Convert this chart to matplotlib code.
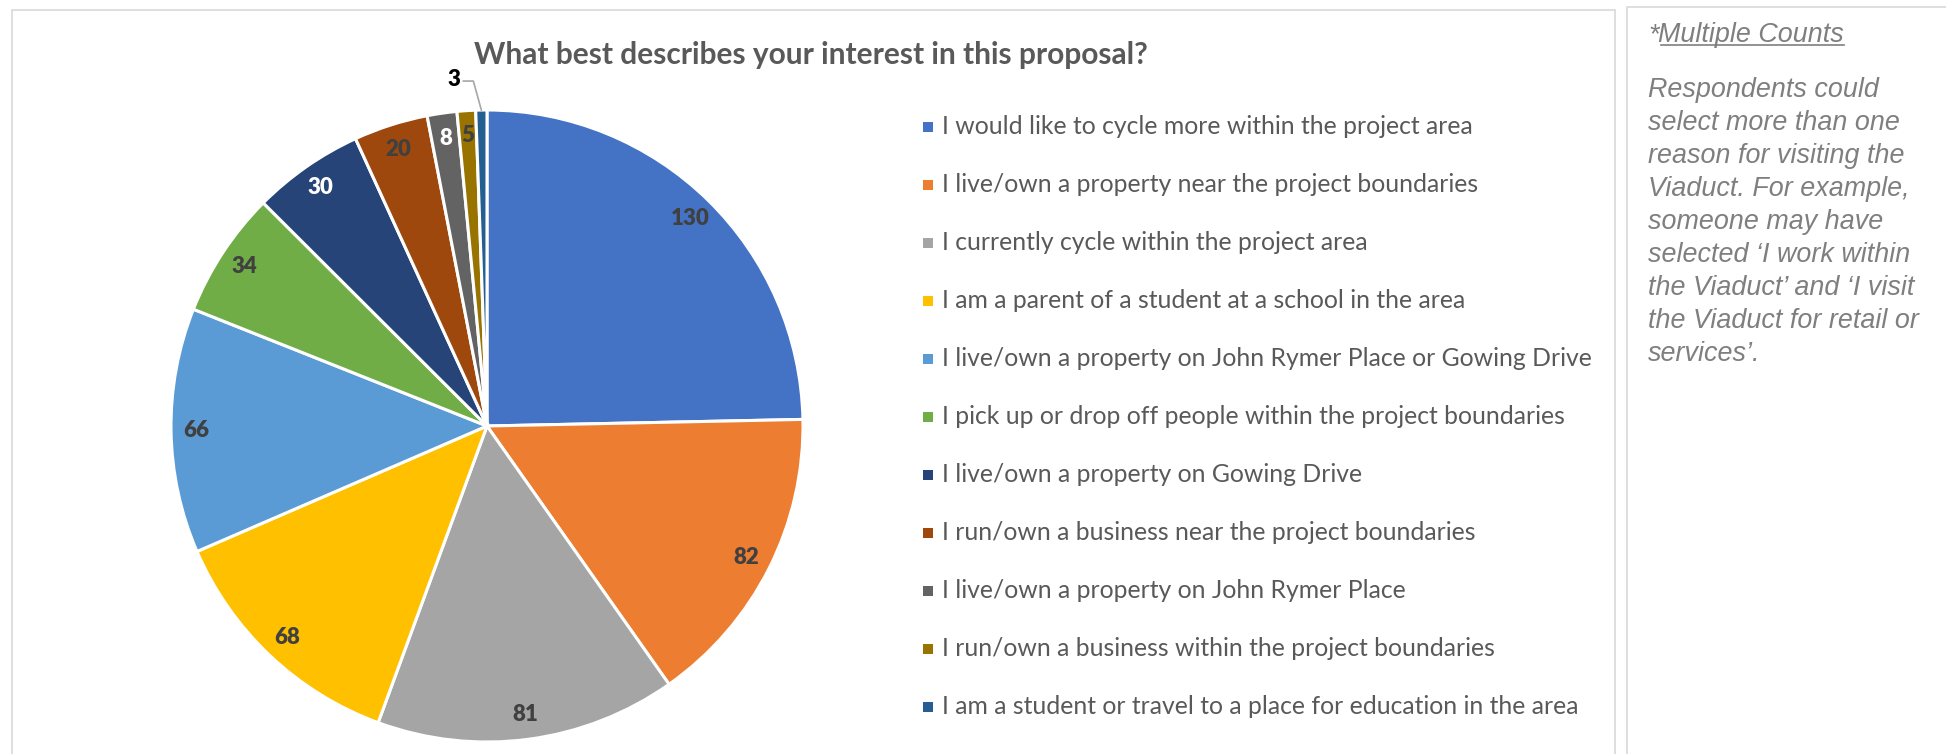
import numpy as np
import matplotlib.pyplot as plt
from matplotlib.patches import Rectangle

categories = [
    "I would like to cycle more within the project area",
    "I live/own a property near the project boundaries",
    "I currently cycle within the project area",
    "I am a parent of a student at a school in the area",
    "I live/own a property on John Rymer Place or Gowing Drive",
    "I pick up or drop off people within the project boundaries",
    "I live/own a property on Gowing Drive",
    "I run/own a business near the project boundaries",
    "I live/own a property on John Rymer Place",
    "I run/own a business within the project boundaries",
    "I am a student or travel to a place for education in the area",
]
counts = [130, 82, 81, 68, 66, 34, 30, 20, 8, 5, 3]

colors = ["#4472C4", "#ED7D31", "#A5A5A5", "#FFC000", "#5B9BD5", "#70AD47",
          "#264478", "#9E480E", "#636363", "#997300", "#255E91"]
label_colors = ["#404040", "#404040", "#404040", "#404040", "#404040", "#404040",
                "#FFFFFF", "#404040", "#FFFFFF", "#404040", "#000000"]

title = "What best describes your interest in this proposal?"
note_head = "Multiple Counts"
note_lines = [
    "Respondents could",
    "select more than one",
    "reason for visiting the",
    "Viaduct. For example,",
    "someone may have",
    "selected \u2018I work within",
    "the Viaduct\u2019 and \u2018I visit",
    "the Viaduct for retail or",
    "services\u2019.",
]

W, H = 1946, 754


def Y(y):
    # pixel row from the top -> data y (axes runs bottom-up)
    return H - y


fig = plt.figure(figsize=(W / 100, H / 100), dpi=100)
ax = fig.add_axes([0, 0, 1, 1])

cx, cy, r = 487, Y(426), 316
wedges, _ = ax.pie(counts, colors=colors, startangle=90, counterclock=False,
                   radius=r, center=(cx, cy),
                   wedgeprops=dict(edgecolor="white", linewidth=2.2))
ax.set_xlim(0, W)
ax.set_ylim(0, H)
ax.axis("off")

# data labels
for w, n, tc in zip(wedges, counts, label_colors):
    a = np.deg2rad((w.theta1 + w.theta2) / 2)
    if n > 3:
        ax.text(cx + 0.92 * r * np.cos(a), cy + 0.92 * r * np.sin(a), str(n),
                ha="center", va="center", fontsize=16, fontweight="heavy",
                color=tc, family="Lato")
    else:
        ex, ey = cx + r * np.cos(a), cy + r * np.sin(a)
        ax.plot([ex, ex - 8, ex - 18], [ey, ey + 29, ey + 29],
                color="#A6A6A6", lw=1.2)
        ax.text(ex - 27, ey + 31, str(n), ha="center", va="center",
                fontsize=16, fontweight="heavy", color=tc, family="Lato")

ax.text(811, Y(55), title, ha="center", va="center", fontsize=21.5,
        fontweight="bold", color="#595959", family="Lato")

# legend
for i, (cat, col) in enumerate(zip(categories, colors)):
    y = Y(127 + 58 * i)
    ax.scatter([928], [y], marker="s", s=48, color=col, linewidths=0)
    ax.text(942, y, cat, ha="left", va="center", fontsize=17.8,
            color="#595959", family="Lato")

# chart frame + side note box
ax.add_patch(Rectangle((12, -10), 1615 - 12, Y(10) + 10, fill=False,
                       edgecolor="#D9D9D9", lw=1.2))
ax.add_patch(Rectangle((1627, -10), 400, Y(7) + 10, fill=False,
                       edgecolor="#D9D9D9", lw=1.2))

note_style = dict(fontsize=19.4, style="italic", color="#7F7F7F",
                  family="Liberation Sans", va="baseline", ha="left")
star = ax.text(1648, Y(42), "*", **note_style)
fig.canvas.draw()
x1 = star.get_window_extent().x1
head = ax.text(x1, Y(42), note_head, **note_style)
fig.canvas.draw()
bb = head.get_window_extent()
ax.plot([bb.x0 + 2, bb.x1], [Y(45), Y(45)], color="#7F7F7F", lw=1.2)

for i, line in enumerate(note_lines):
    ax.text(1648, Y(97 + 33 * i), line, **note_style)

fig.savefig("out.png", dpi=100)
